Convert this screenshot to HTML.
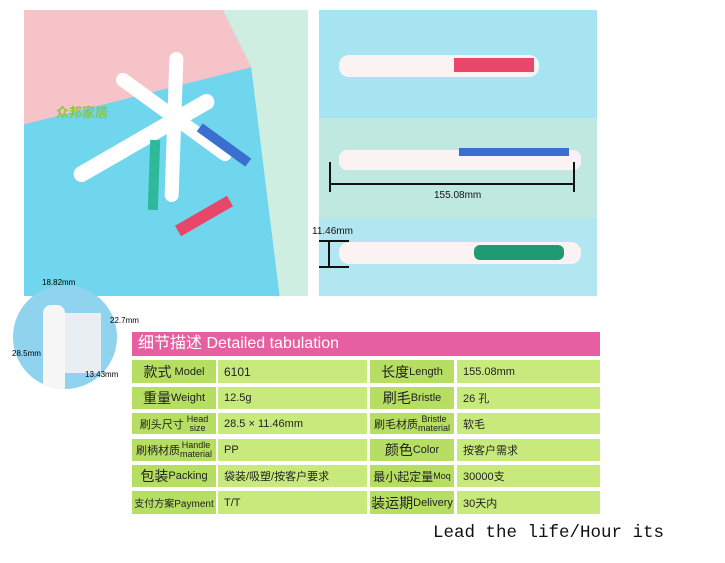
<!DOCTYPE html>
<html><head><meta charset="utf-8"><style>
body{margin:0;width:725px;height:563px;background:#fff;position:relative;overflow:hidden;font-family:"Liberation Sans","Noto Sans CJK SC",sans-serif}
.a{position:absolute}
.c{position:absolute;background:#c8ea7c;font-size:11px;color:#222;display:flex;align-items:center;box-sizing:border-box;padding-left:6px;white-space:nowrap}
.l{background:#b6de62;justify-content:center;padding-left:0}
.l b{font-weight:normal;font-size:14px}
.s{font-size:9px;line-height:9px;text-align:center;display:inline-block}
</style></head><body>
<div class="a" style="left:24px;top:10px;width:284px;height:286px;background:#6fd6ee;overflow:hidden">
<div class="a" style="left:0;top:0;width:284px;height:286px;background:#f6c3c8;clip-path:polygon(0 0,70% 0,80% 20%,0 40%)"></div>
<div class="a" style="left:0;top:0;width:284px;height:286px;background:#cfeee2;clip-path:polygon(70% 0,100% 0,100% 100%,90% 100%,80% 20%)"></div>
<div class="a" style="left:40px;top:120px;width:160px;height:16px;background:#fff;transform:rotate(-30deg);border-radius:8px"></div>
<div class="a" style="left:80px;top:100px;width:140px;height:14px;background:#fff;transform:rotate(36deg);border-radius:7px"></div>
<div class="a" style="left:75px;top:110px;width:150px;height:14px;background:#fff;transform:rotate(92deg);border-radius:7px"></div>
<div class="a" style="left:150px;top:200px;width:60px;height:12px;background:#e8476a;transform:rotate(-30deg)"></div>
<div class="a" style="left:170px;top:130px;width:60px;height:10px;background:#3a6fd0;transform:rotate(36deg)"></div>
<div class="a" style="left:95px;top:160px;width:70px;height:10px;background:#2eb99b;transform:rotate(92deg)"></div>
<div class="a" style="left:32px;top:92px;font-size:13px;color:#8cc63f;font-weight:bold">众邦家居</div>
</div>
<div class="a" style="left:319px;top:10px;width:278px;height:286px;background:#a6e4f2;overflow:hidden">
<div class="a" style="left:0;top:108px;width:278px;height:100px;background:#bfe9e0"></div>
<div class="a" style="left:0;top:208px;width:278px;height:78px;background:#b2e6f0"></div>
<div class="a" style="left:20px;top:45px;width:200px;height:22px;background:#fbf3f3;border-radius:10px"></div>
<div class="a" style="left:135px;top:48px;width:80px;height:14px;background:#e8476a"></div>
<div class="a" style="left:20px;top:140px;width:242px;height:20px;background:#fbf3f3;border-radius:8px"></div>
<div class="a" style="left:140px;top:138px;width:110px;height:8px;background:#3a6fd0"></div>
<div class="a" style="left:20px;top:232px;width:242px;height:22px;background:#fbf3f3;border-radius:10px"></div>
<div class="a" style="left:155px;top:235px;width:90px;height:15px;background:#1f9a72;border-radius:6px"></div>
<div class="a" style="left:10px;top:152px;width:2px;height:30px;background:#111"></div>
<div class="a" style="left:254px;top:152px;width:2px;height:30px;background:#111"></div>
<div class="a" style="left:12px;top:173px;width:242px;height:2px;background:#111"></div>
<div class="a" style="left:115px;top:180px;font-size:10px;color:#111">155.08mm</div>
<div class="a" style="left:0;top:230px;width:30px;height:2px;background:#111"></div>
<div class="a" style="left:0;top:256px;width:30px;height:2px;background:#111"></div>
<div class="a" style="left:9px;top:230px;width:2px;height:28px;background:#111"></div>
</div>
<div class="a" style="left:312px;top:226px;font-size:10px;color:#111">11.46mm</div>
<div class="a" style="left:13px;top:285px;width:104px;height:104px;border-radius:50%;background:#8fd3ef;overflow:hidden">
<div class="a" style="left:30px;top:20px;width:22px;height:90px;background:#f6f6f6;border-radius:8px"></div>
<div class="a" style="left:52px;top:28px;width:36px;height:60px;background:#e8eef2"></div>
</div>
<div class="a" style="left:42px;top:278px;font-size:8px">18.82mm</div>
<div class="a" style="left:110px;top:316px;font-size:8px">22.7mm</div>
<div class="a" style="left:12px;top:349px;font-size:8px">28.5mm</div>
<div class="a" style="left:85px;top:370px;font-size:8px">13.43mm</div>
<div class="a" style="left:132px;top:332px;width:468px;height:24px;background:#e65fa0;color:#fff;font-size:16px;line-height:24px;padding-left:6px;box-sizing:border-box">细节描述 Detailed tabulation</div>

<div class="c l" style="left:132px;top:360px;width:84px;height:23px"><b>款式</b>&nbsp;Model</div>
<div class="c" style="left:218px;top:360px;width:149px;height:23px;font-size:12px">6101</div>
<div class="c l" style="left:370px;top:360px;width:84px;height:23px"><b>长度</b>Length</div>
<div class="c" style="left:457px;top:360px;width:143px;height:23px">155.08mm</div>

<div class="c l" style="left:132px;top:387px;width:84px;height:22px"><b>重量</b>Weight</div>
<div class="c" style="left:218px;top:387px;width:149px;height:22px">12.5g</div>
<div class="c l" style="left:370px;top:387px;width:84px;height:22px"><b>刷毛</b>Bristle</div>
<div class="c" style="left:457px;top:387px;width:143px;height:22px">26 孔</div>

<div class="c l" style="left:132px;top:413px;width:84px;height:21px">刷头尺寸&nbsp;<span class="s">Head<br>size</span></div>
<div class="c" style="left:218px;top:413px;width:149px;height:21px">28.5 × 11.46mm</div>
<div class="c l" style="left:370px;top:413px;width:84px;height:21px">刷毛材质<span class="s">Bristle<br>material</span></div>
<div class="c" style="left:457px;top:413px;width:143px;height:21px">软毛</div>

<div class="c l" style="left:132px;top:439px;width:84px;height:22px">刷柄材质<span class="s">Handle<br>material</span></div>
<div class="c" style="left:218px;top:439px;width:149px;height:22px">PP</div>
<div class="c l" style="left:370px;top:439px;width:84px;height:22px"><b>颜色</b>Color</div>
<div class="c" style="left:457px;top:439px;width:143px;height:22px">按客户需求</div>

<div class="c l" style="left:132px;top:465px;width:84px;height:22px"><b>包装</b>Packing</div>
<div class="c" style="left:218px;top:465px;width:149px;height:22px">袋装/吸塑/按客户要求</div>
<div class="c l" style="left:370px;top:465px;width:84px;height:22px"><b style="font-size:12px">最小起定量</b><span style="font-size:9px">Moq</span></div>
<div class="c" style="left:457px;top:465px;width:143px;height:22px">30000支</div>

<div class="c l" style="left:132px;top:491px;width:84px;height:23px;font-size:10px">支付方案Payment</div>
<div class="c" style="left:218px;top:491px;width:149px;height:23px">T/T</div>
<div class="c l" style="left:370px;top:491px;width:84px;height:23px"><b>装运期</b>Delivery</div>
<div class="c" style="left:457px;top:491px;width:143px;height:23px">30天内</div>

<div class="a" style="left:433px;top:523px;font-family:'Liberation Mono',monospace;font-size:17.5px;color:#111">Lead the life/Hour its</div>
</body></html>
